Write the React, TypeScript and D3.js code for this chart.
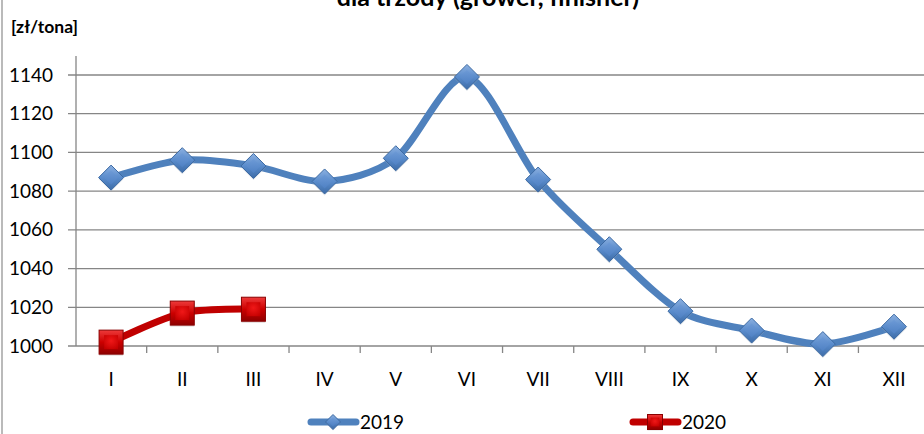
import React from "react";
import * as d3 from "d3";

const months = ["I", "II", "III", "IV", "V", "VI", "VII", "VIII", "IX", "X", "XI", "XII"];
const values2019 = [1087, 1096, 1093, 1085, 1097, 1139, 1086, 1050, 1018, 1008, 1001, 1010];
const values2020 = [1002, 1017, 1019];
const yTicks = [1000, 1020, 1040, 1060, 1080, 1100, 1120, 1140];
const seriesNames = ["2019", "2020"];

const W = 924;
const H = 434;
const plotLeft = 75.5;
const plotRight = 929.6;
const plotTop = 56;
const yBottom = 346;
const yTop = 75;

export default function App() {
  const x = d3.scaleBand<string>().domain(months).range([plotLeft, plotRight]);
  const y = d3.scaleLinear().domain([1000, 1140]).range([yBottom, yTop]);
  const cx = (m: string) => (x(m) as number) + x.bandwidth() / 2;
  const line = d3
    .line<number>()
    .x((_, i) => cx(months[i]))
    .y((v) => y(v))
    .curve(d3.curveCardinal.tension(0.1));

  const font = "Lato, 'Open Sans', sans-serif";
  const diamond = (px: number, py: number, r: number) =>
    `M${px},${py - r}L${px + r},${py}L${px},${py + r}L${px - r},${py}Z`;

  const Diamond = ({ px, py, r = 12.5 }: { px: number; py: number; r?: number }) => (
    <g>
      <path d={diamond(px, py + r * 0.12, r)} fill="#9aa8bb" opacity={0.35} />
      <path d={diamond(px, py, r)} fill="url(#gBlue)" stroke="#3c6aa3" strokeWidth={1} />
      <path d={diamond(px, py, r * 0.56)} fill="url(#gBlueIn)" />
    </g>
  );
  const Square = ({ px, py, s = 12 }: { px: number; py: number; s?: number }) => {
    const b = s * 0.42;
    return (
      <g>
        <rect x={px - s} y={py - s + s * 0.12} width={2 * s} height={2 * s} fill="#9a8080" opacity={0.35} />
        <rect x={px - s} y={py - s} width={2 * s} height={2 * s} fill="url(#gRedEdge)" stroke="#8a0000" strokeWidth={1} />
        <rect x={px - s + b} y={py - s + b} width={2 * s - 2 * b} height={2 * s - 2 * b} fill="url(#gRedIn)" />
      </g>
    );
  };

  return (
    <svg width={W} height={H} style={{ position: "absolute", left: 0, top: 0, background: "#fff" }}>
      <defs>
        <linearGradient id="gBlue" x1="0" y1="0" x2="0" y2="1">
          <stop offset="0" stopColor="#8cb0e0" />
          <stop offset="0.5" stopColor="#5a8ccc" />
          <stop offset="1" stopColor="#3d6ca8" />
        </linearGradient>
        <linearGradient id="gBlueIn" x1="0" y1="0" x2="0" y2="1">
          <stop offset="0" stopColor="#6d9ad6" />
          <stop offset="1" stopColor="#4f81c4" />
        </linearGradient>
        <linearGradient id="gRedEdge" x1="0" y1="0" x2="0" y2="1">
          <stop offset="0" stopColor="#ee3a3a" />
          <stop offset="0.5" stopColor="#cc0000" />
          <stop offset="1" stopColor="#8e0000" />
        </linearGradient>
        <radialGradient id="gRedIn" cx="0.5" cy="0.4" r="0.7">
          <stop offset="0" stopColor="#f01818" />
          <stop offset="1" stopColor="#c40000" />
        </radialGradient>
      </defs>

      {/* frame */}
      <line x1={2} y1={0} x2={2} y2={H} stroke="#8c8c8c" strokeWidth={1.2} />

      {/* title (partially clipped, as in the reference) */}
      <text x={488} y={6} textAnchor="middle" fontFamily={font} fontWeight={700} fontSize={25} fill="#000">
        dla trzody (grower, finisher)
      </text>
      <text x={11} y={33} fontFamily={font} fontWeight={700} fontSize={17.5} fill="#000">
        [zł/tona]
      </text>

      {/* gridlines */}
      {yTicks.map((t) => (
        <g key={t}>
          <line x1={68} x2={W} y1={y(t)} y2={y(t)} stroke="#868686" strokeWidth={1.3} />
          <text x={53} y={y(t) + 6.5} textAnchor="end" fontFamily={font} fontSize={19} fill="#000">
            {t}
          </text>
        </g>
      ))}
      {/* y axis */}
      <line x1={plotLeft + 0.5} x2={plotLeft + 0.5} y1={plotTop} y2={yBottom} stroke="#868686" strokeWidth={1.3} />
      {/* x ticks */}
      {months.map((m) => (
        <line
          key={m}
          x1={(x(m) as number) + x.bandwidth()}
          x2={(x(m) as number) + x.bandwidth()}
          y1={yBottom}
          y2={yBottom + 7}
          stroke="#868686"
          strokeWidth={1.3}
        />
      ))}
      {months.map((m) => (
        <text key={m} x={cx(m)} y={386} textAnchor="middle" fontFamily={font} fontSize={19} fill="#000">
          {m}
        </text>
      ))}

      {/* series 2019 */}
      <path d={line(values2019) || ""} fill="none" stroke="#4f81bd" strokeWidth={7} strokeLinecap="round" />
      {/* series 2020 */}
      <path d={line(values2020) || ""} fill="none" stroke="#c00000" strokeWidth={7} strokeLinecap="round" />
      {values2019.map((v, i) => (
        <Diamond key={i} px={cx(months[i])} py={y(v)} />
      ))}
      {values2020.map((v, i) => (
        <Square key={i} px={cx(months[i])} py={y(v)} />
      ))}

      {/* legend */}
      <line x1={311} x2={356} y1={422} y2={422} stroke="#4f81bd" strokeWidth={7} strokeLinecap="round" />
      <Diamond px={333} py={422} r={7.5} />
      <text x={360} y={429} fontFamily={font} fontSize={19} fill="#000">
        {seriesNames[0]}
      </text>
      <line x1={633} x2={678} y1={422} y2={422} stroke="#c00000" strokeWidth={7} strokeLinecap="round" />
      <Square px={655} py={422} s={7.5} />
      <text x={682} y={429} fontFamily={font} fontSize={19} fill="#000">
        {seriesNames[1]}
      </text>
    </svg>
  );
}
